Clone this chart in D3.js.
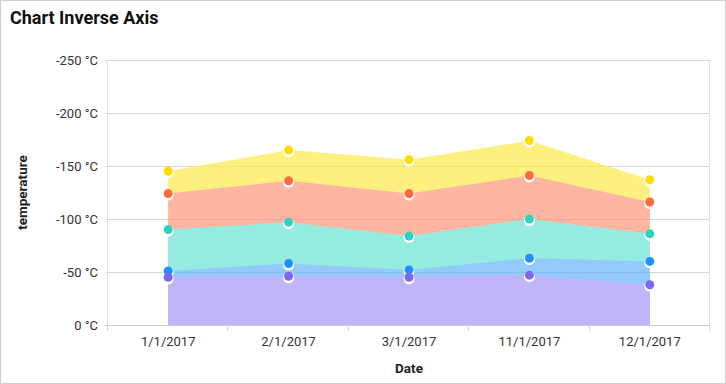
<!DOCTYPE html>
<html>
<head>
<meta charset="utf-8">
<script src="https://cdn.jsdelivr.net/npm/d3@7"></script>
<style>
  body { margin: 0; background: #fff; font-family: Roboto, "Noto Sans", sans-serif; }
</style>
</head>
<body>
<div id="chart"></div>
<script>
// categories and series (temperatures, °C)
const dates = ["1/1/2017", "2/1/2017", "3/1/2017", "11/1/2017", "12/1/2017"];
const yellowVals = [-145, -165, -156, -174, -137];
const redVals = [-124, -136, -124, -141, -116];
const tealVals = [-90, -97, -84, -100, -86];
const blueVals = [-51, -58, -52, -63, -60];
const purpleVals = [-45, -46, -45, -47, -38];
const yTicks = [0, -50, -100, -150, -200, -250];

// draw order: biggest first so smaller ones sit on top
const series = [
    { name: "yellow", values: yellowVals, fill: "#fef07f", dot: "#ffdc00" },
    { name: "red", values: redVals, fill: "#feb5a1", dot: "#ff6a3a" },
    { name: "teal", values: tealVals, fill: "#96ebe0", dot: "#2cd3be" },
    { name: "blue", values: blueVals, fill: "#94c9fb", dot: "#1e90ff" },
    { name: "purple", values: purpleVals, fill: "#c1b5fa", dot: "#7b68ee" }
];

const width = 726, height = 384;
const plot = { left: 108, right: 710, top: 60, bottom: 325 };

const svg = d3.select("#chart")
    .append("svg")
    .attr("width", width)
    .attr("height", height);

// outer border
svg.append("rect")
    .attr("x", 0.5).attr("y", 0.5)
    .attr("width", width - 1).attr("height", height - 1)
    .attr("fill", "none")
    .attr("stroke", "#cfcfcf");

svg.append("text")
    .attr("x", 10).attr("y", 24)
    .attr("font-size", 18).attr("font-weight", "bold")
    .attr("fill", "#111")
    .text("Chart Inverse Axis");

const x = d3.scaleBand()
    .domain(dates)
    .range([plot.left, plot.right]);

// inversed axis: 0 at the bottom, -250 at the top
const y = d3.scaleLinear()
    .domain([0, -250])
    .range([plot.bottom, plot.top]);

// gridlines
svg.append("g")
    .selectAll("line")
    .data(yTicks)
    .join("line")
    .attr("x1", plot.left - 3)
    .attr("x2", plot.right)
    .attr("y1", d => Math.round(y(d)) + 0.5)
    .attr("y2", d => Math.round(y(d)) + 0.5)
    .attr("stroke", d => d === 0 ? "#cccccc" : "#e2e2e2");

// side lines
[plot.left, plot.right].forEach(px => {
    svg.append("line")
        .attr("x1", px - 0.5).attr("x2", px - 0.5)
        .attr("y1", plot.top).attr("y2", plot.bottom)
        .attr("stroke", "#e2e2e2");
});

// y tick labels
svg.append("g")
    .selectAll("text")
    .data(yTicks)
    .join("text")
    .attr("x", plot.left - 10)
    .attr("y", d => y(d) + 4.5)
    .attr("text-anchor", "end")
    .attr("font-size", 13)
    .attr("fill", "#333")
    .text(d => `${d} °C`);

// x ticks at band edges
const edges = dates.map(d => x(d)).concat([x(dates[dates.length - 1]) + x.bandwidth()]);
svg.append("g")
    .selectAll("line")
    .data(edges)
    .join("line")
    .attr("x1", d => Math.round(d) - 0.5)
    .attr("x2", d => Math.round(d) - 0.5)
    .attr("y1", plot.bottom)
    .attr("y2", plot.bottom + 6)
    .attr("stroke", "#d6d6d6");

svg.append("g")
    .selectAll("text")
    .data(dates)
    .join("text")
    .attr("x", d => x(d) + x.bandwidth() / 2)
    .attr("y", plot.bottom + 21)
    .attr("text-anchor", "middle")
    .attr("font-size", 13)
    .attr("fill", "#333")
    .text(d => d);

// axis titles
svg.append("text")
    .attr("x", (plot.left + plot.right) / 2)
    .attr("y", 373)
    .attr("text-anchor", "middle")
    .attr("font-size", 13.5).attr("font-weight", "bold")
    .attr("fill", "#222")
    .text("Date");

svg.append("text")
    .attr("transform", `translate(27,${(plot.top + plot.bottom) / 2}) rotate(-90)`)
    .attr("text-anchor", "middle")
    .attr("font-size", 13.5).attr("font-weight", "bold")
    .attr("fill", "#222")
    .text("temperature");

const cx = d => x(d) + x.bandwidth() / 2;

const area = d3.area()
    .x((d, i) => cx(dates[i]))
    .y0(y(0))
    .y1(d => y(d));

svg.append("g")
    .selectAll("path")
    .data(series)
    .join("path")
    .attr("d", s => area(s.values))
    .attr("fill", s => s.fill);

// faint gridlines showing through the areas
svg.append("g")
    .selectAll("line")
    .data(yTicks.filter(d => d !== 0))
    .join("line")
    .attr("x1", plot.left)
    .attr("x2", plot.right)
    .attr("y1", d => Math.round(y(d)) + 0.5)
    .attr("y2", d => Math.round(y(d)) + 0.5)
    .attr("stroke", "#000")
    .attr("stroke-opacity", 0.05);

// markers
const markers = svg.append("g");
series.forEach(s => {
    const g = markers.append("g");
    g.selectAll("circle.ring")
        .data(s.values)
        .join("circle")
        .attr("class", "ring")
        .attr("cx", (d, i) => cx(dates[i]))
        .attr("cy", d => y(d) + 1.5)
        .attr("r", 5.5)
        .attr("fill", "#fff");
    g.selectAll("circle.dot")
        .data(s.values)
        .join("circle")
        .attr("class", "dot")
        .attr("cx", (d, i) => cx(dates[i]))
        .attr("cy", d => y(d))
        .attr("r", 4.5)
        .attr("fill", s.dot);
});
</script>
</body>
</html>
